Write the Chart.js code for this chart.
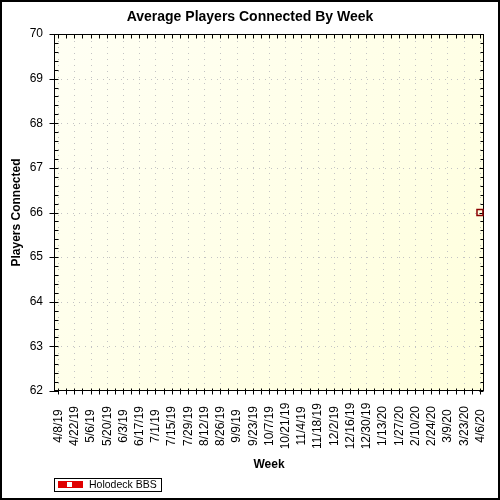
<!DOCTYPE html>
<html><head><meta charset="utf-8">
<script src="https://cdn.jsdelivr.net/npm/chart.js@4/dist/chart.umd.min.js"></script>
<style>html,body{margin:0;padding:0;background:#fff}canvas{display:block}</style>
</head><body><canvas id="c" width="500" height="500"></canvas>
<script>
// ---- data ----
const weeks = ["4/8/19","4/15/19","4/22/19","4/29/19","5/6/19","5/13/19","5/20/19","5/27/19",
  "6/3/19","6/10/19","6/17/19","6/24/19","7/1/19","7/8/19","7/15/19","7/22/19","7/29/19",
  "8/5/19","8/12/19","8/19/19","8/26/19","9/2/19","9/9/19","9/16/19","9/23/19","9/30/19",
  "10/7/19","10/14/19","10/21/19","10/28/19","11/4/19","11/11/19","11/18/19","11/25/19",
  "12/2/19","12/9/19","12/16/19","12/23/19","12/30/19","1/6/20","1/13/20","1/20/20","1/27/20",
  "2/3/20","2/10/20","2/17/20","2/24/20","3/2/20","3/9/20","3/16/20","3/23/20","3/30/20","4/6/20"];
const holodeckBBS = [null,null,null,null,null,null,null,null,null,null,null,null,null,
  null,null,null,null,null,null,null,null,null,null,null,null,null,
  null,null,null,null,null,null,null,null,null,null,null,null,null,
  null,null,null,null,null,null,null,null,null,null,null,null,null,66];
const seriesName = "Holodeck BBS";
const yMin = 62, yMax = 70, yStep = 1, yMinorStep = 0.2;
const labelEvery = 2;

const FONT = "'Liberation Sans', Arial, sans-serif";

const decor = {
  id: 'decor',
  beforeDraw(chart) {
    const {ctx, chartArea: a} = chart;
    ctx.save();
    ctx.fillStyle = '#fff';
    ctx.fillRect(0, 0, chart.width, chart.height);
    const g = ctx.createLinearGradient(a.left, a.top, a.right, a.bottom);
    g.addColorStop(0, '#fffff4');
    g.addColorStop(1, '#ffffdc');
    ctx.fillStyle = g;
    ctx.fillRect(a.left, a.top, a.right - a.left, a.bottom - a.top);
    // dotted grid
    const xs = chart.scales.x, ys = chart.scales.y;
    ctx.strokeStyle = '#c4c4c4';
    ctx.lineWidth = 1;
    ctx.setLineDash([1, 5]);
    for (let i = 0; i < weeks.length; i += labelEvery) {
      const x = Math.round(xs.getPixelForValue(i)) + 0.5;
      ctx.beginPath(); ctx.moveTo(x, a.top + 1); ctx.lineTo(x, a.bottom); ctx.stroke();
    }
    for (let v = yMin + yStep; v < yMax; v += yStep) {
      const y = Math.round(ys.getPixelForValue(v)) + 0.5;
      ctx.beginPath(); ctx.moveTo(a.left + 1, y); ctx.lineTo(a.right, y); ctx.stroke();
    }
    ctx.setLineDash([]);
    ctx.restore();
  },
  beforeDatasetsDraw(chart) {
    const {ctx, chartArea: a} = chart;
    const xs = chart.scales.x, ys = chart.scales.y;
    const L = Math.round(a.left) + 0.5, R = Math.round(a.right) - 0.5;
    const T = Math.round(a.top) + 0.5, B = Math.round(a.bottom) - 0.5;
    ctx.save();
    ctx.strokeStyle = '#000';
    ctx.lineWidth = 1;
    ctx.strokeRect(L, T, R - L, B - T);
    ctx.beginPath();
    for (let i = 0; i < weeks.length; i++) {
      const x = Math.round(xs.getPixelForValue(i)) + 0.5;
      ctx.moveTo(x, B - 2); ctx.lineTo(x, B + 4);
      ctx.moveTo(x, T); ctx.lineTo(x, T + 4);
    }
    const nMinor = Math.round((yMax - yMin) / yMinorStep);
    const per = Math.round(yStep / yMinorStep);
    for (let k = 0; k <= nMinor; k++) {
      const v = yMin + k * yMinorStep;
      const y = Math.round(ys.getPixelForValue(v)) + 0.5;
      if (k % per === 0) {
        ctx.moveTo(L - 5, y); ctx.lineTo(L + 4, y);
        ctx.moveTo(R - 4, y); ctx.lineTo(R, y);
      } else {
        ctx.moveTo(L, y); ctx.lineTo(L + 4, y);
        ctx.moveTo(R - 3, y); ctx.lineTo(R, y);
      }
    }
    ctx.stroke();
    ctx.restore();
  },
  afterDraw(chart) {
    const {ctx} = chart;
    const xs = chart.scales.x;
    ctx.save();
    // x tick labels, rotated and centred
    ctx.fillStyle = '#000';
    ctx.font = '12px ' + FONT;
    ctx.textAlign = 'center';
    ctx.textBaseline = 'middle';
    for (let i = 0; i < weeks.length; i += labelEvery) {
      const x = xs.getPixelForValue(i);
      ctx.save();
      ctx.translate(x + 0.5, 426);
      ctx.rotate(-Math.PI / 2);
      ctx.fillText(weeks[i], 0, 0);
      ctx.restore();
    }
    // legend
    ctx.strokeStyle = '#000';
    ctx.lineWidth = 1;
    ctx.strokeRect(54.5, 478.5, 107, 13);
    ctx.fillStyle = '#e00000';
    ctx.fillRect(58, 481, 25, 7);
    ctx.fillStyle = '#fff';
    ctx.fillRect(67, 482, 5, 5);
    ctx.fillStyle = '#000';
    ctx.font = '10.5px ' + FONT;
    ctx.textAlign = 'left';
    ctx.fillText(chart.data.datasets[0].label, 89, 485.5);
    // outer frame
    ctx.lineWidth = 2;
    ctx.strokeRect(1, 1, chart.width - 2, chart.height - 2);
    ctx.restore();
  }
};

new Chart(document.getElementById('c'), {
  type: 'line',
  data: {
    labels: weeks,
    datasets: [{
      label: seriesName,
      data: holodeckBBS,
      borderColor: '#e00000',
      borderWidth: 2,
      pointStyle: 'rect',
      pointRadius: 4.2,
      pointBorderWidth: 1.5,
      pointBorderColor: '#8b0000',
      pointBackgroundColor: 'rgba(0,0,0,0)',
      spanGaps: false,
      clip: false
    }]
  },
  options: {
    responsive: false,
    animation: false,
    events: [],
    layout: { padding: 0 },
    plugins: {
      legend: { display: false },
      tooltip: { enabled: false },
      title: {
        display: true,
        text: 'Average Players Connected By Week',
        color: '#000',
        font: { family: FONT, size: 14, weight: 'bold' },
        padding: { top: 9, bottom: 8.2 }
      }
    },
    scales: {
      x: {
        type: 'category',
        offset: true,
        grid: { display: false, drawTicks: false },
        border: { display: false },
        ticks: { display: false },
        title: {
          display: true, text: 'Week', color: '#000',
          font: { family: FONT, size: 12, weight: 'bold' },
          padding: { top: 0, bottom: 28 }
        },
        afterFit(s) { s.height = 109; }
      },
      y: {
        min: yMin, max: yMax,
        grid: { display: false, drawTicks: false },
        border: { display: false },
        ticks: {
          stepSize: yStep, padding: 11, color: '#000',
          font: { family: FONT, size: 12 }
        },
        title: {
          display: true, text: 'Players Connected', color: '#000',
          font: { family: FONT, size: 12, weight: 'bold' },
          padding: { top: 9, bottom: 0 }
        },
        afterFit(s) { s.width = 54; }
      },
      yRight: {
        position: 'right',
        min: yMin, max: yMax,
        grid: { display: false, drawTicks: false },
        border: { display: false },
        ticks: { display: false },
        afterFit(s) { s.width = 16; }
      }
    }
  },
  plugins: [decor]
});
</script>
</body></html>
